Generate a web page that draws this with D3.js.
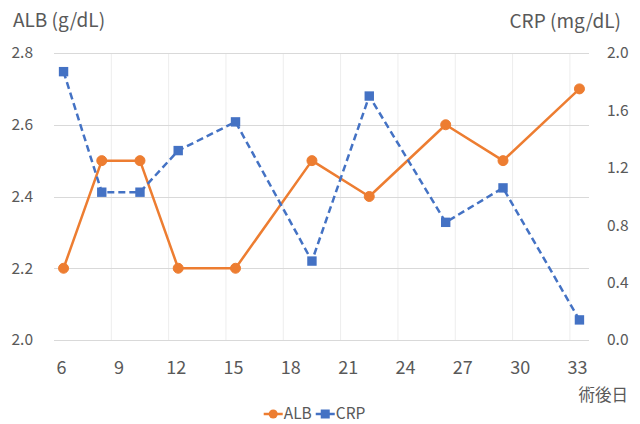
<!DOCTYPE html>
<html>
<head>
<meta charset="utf-8">
<script src="https://cdn.jsdelivr.net/npm/d3@7"></script>
<style>
html,body{margin:0;padding:0;background:#fff;}
svg{display:block;}
text{font-family:"Noto Sans CJK JP","Noto Sans",sans-serif;fill:#595959;}
</style>
</head>
<body>
<svg id="chart" width="640" height="424"></svg>
<script>
const days = [6, 8, 10, 12, 15, 19, 22, 26, 29, 33];
const alb = [2.2, 2.5, 2.5, 2.2, 2.2, 2.5, 2.4, 2.6, 2.5, 2.7];
const crp = [1.87, 1.03, 1.03, 1.32, 1.52, 0.55, 1.70, 0.82, 1.06, 0.14];
const xTicks = [6, 9, 12, 15, 18, 21, 24, 27, 30, 33];
const xGrid = [8.5, 11.5, 14.5, 17.5, 20.5, 23.5, 26.5, 29.5, 32.5];
const leftTicks = [2.0, 2.2, 2.4, 2.6, 2.8];
const rightTicks = [0.0, 0.4, 0.8, 1.2, 1.6, 2.0];
const leftTitle = "ALB (g/dL)";
const rightTitle = "CRP (mg/dL)";
const xTitle = "術後日";
const seriesNames = ["ALB", "CRP"];

const orange = "#ED7D31", blue = "#4472C4";
const svg = d3.select("#chart");
const L = 54, R = 589, T = 53, B = 340;
const FONT = '"Noto Sans CJK JP","Noto Sans",sans-serif';

const x = d3.scaleLinear().domain([5.5, 33.5]).range([L, R]);
const yL = d3.scaleLinear().domain([2.0, 2.8]).range([B, T]);
const yR = d3.scaleLinear().domain([0, 2.0]).range([B, T]);

// gridlines
svg.append("g").selectAll("line").data(xGrid).join("line")
  .attr("x1", d => x(d)).attr("x2", d => x(d))
  .attr("y1", T).attr("y2", B)
  .attr("stroke", "#EDEDED").attr("stroke-width", 1);
svg.append("g").selectAll("line").data(leftTicks).join("line")
  .attr("x1", L).attr("x2", R)
  .attr("y1", d => Math.round(yL(d)) + 0.5).attr("y2", d => Math.round(yL(d)) + 0.5)
  .attr("stroke", "#D9D9D9").attr("stroke-width", 1);

// axes (labels only)
const axL = svg.append("g").attr("transform", `translate(${L - 18},0)`)
  .call(d3.axisLeft(yL).tickValues(leftTicks).tickFormat(d3.format(".1f")).tickSize(0));
const axR = svg.append("g").attr("transform", `translate(${R + 15},0)`)
  .call(d3.axisRight(yR).tickValues(rightTicks).tickFormat(d3.format(".1f")).tickSize(0));
const axB = svg.append("g").attr("transform", `translate(-2.5,${B + 18})`)
  .call(d3.axisBottom(x).tickValues(xTicks).tickFormat(d3.format("d")).tickSize(0));
[axL, axR, axB].forEach(a => {
  a.select(".domain").remove();
  a.selectAll("text").attr("fill", "#595959").style("font-family", FONT);
});
axL.selectAll("text").style("font-size", "15.5px");
axR.selectAll("text").style("font-size", "15.5px");
axB.selectAll("text").style("font-size", "18px");

// titles
svg.append("text").attr("x", 13).attr("y", 27).style("font-size", "19px").text(leftTitle);
svg.append("text").attr("x", 621).attr("y", 28).attr("text-anchor", "end").style("font-size", "19px").text(rightTitle);
svg.append("text").attr("x", 628).attr("y", 401).attr("text-anchor", "end").style("font-size", "16.5px").text(xTitle);

// lines
const albData = days.map((d, i) => [d, alb[i]]);
const crpData = days.map((d, i) => [d, crp[i]]);
svg.append("path").datum(albData)
  .attr("d", d3.line().x(d => x(d[0])).y(d => yL(d[1])))
  .attr("fill", "none").attr("stroke", orange).attr("stroke-width", 2.5).attr("stroke-linejoin", "round");
svg.append("path").datum(crpData)
  .attr("d", d3.line().x(d => x(d[0])).y(d => yR(d[1])))
  .attr("fill", "none").attr("stroke", blue).attr("stroke-width", 2.5).attr("stroke-dasharray", "7,4");

// markers
svg.append("g").selectAll("circle").data(albData).join("circle")
  .attr("cx", d => x(d[0])).attr("cy", d => yL(d[1])).attr("r", 5)
  .attr("fill", orange).attr("stroke", orange).attr("stroke-width", 1);
svg.append("g").selectAll("rect").data(crpData).join("rect")
  .attr("x", d => x(d[0]) - 4.7).attr("y", d => yR(d[1]) - 4.7)
  .attr("width", 9.4).attr("height", 9.4).attr("fill", blue);

// legend (laid out by measured text widths, centered)
const lg = svg.append("g");
const ly = 414;
const symW = 19, gapAfterSym = 1, gapBetween = 4;
const colors = [orange, blue];
let cx = 0;
seriesNames.forEach((name, i) => {
  const g = lg.append("g").attr("transform", `translate(${cx},0)`);
  g.append("line").attr("x1", 0).attr("x2", symW).attr("y1", ly).attr("y2", ly)
    .attr("stroke", colors[i]).attr("stroke-width", 2.5);
  if (i === 0) g.append("circle").attr("cx", symW / 2).attr("cy", ly).attr("r", 4.5).attr("fill", colors[i]);
  else g.append("rect").attr("x", symW / 2 - 4.5).attr("y", ly - 4.5).attr("width", 9).attr("height", 9).attr("fill", colors[i]);
  const t = g.append("text").attr("x", symW + gapAfterSym).attr("y", ly).attr("dy", "0.35em")
    .style("font-size", "15.5px").text(name);
  cx += symW + gapAfterSym + t.node().getComputedTextLength() + gapBetween;
});
const totalW = cx - gapBetween;
lg.attr("transform", `translate(${314.5 - totalW / 2},0)`);
</script>
</body>
</html>
